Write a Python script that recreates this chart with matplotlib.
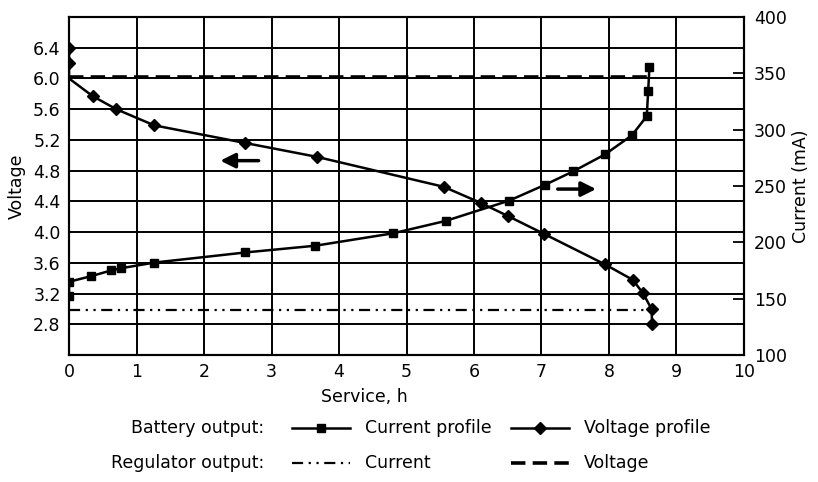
import matplotlib
matplotlib.use("Agg")
import matplotlib.pyplot as plt
from matplotlib.lines import Line2D

plt.rcParams['font.family'] = ['DejaVu Sans']
plt.rcParams['font.size'] = 12

# battery voltage profile (left axis, V)
volt_hours = [0, 0, 0, 0.35, 0.7, 1.26, 2.61, 3.67, 5.55, 6.1, 6.5, 7.03, 7.94, 8.35, 8.5, 8.63, 8.64]
volt_values = [6.4, 6.2, 6.0, 5.77, 5.6, 5.39, 5.16, 4.98, 4.59, 4.38, 4.21, 3.98, 3.58, 3.38, 3.21, 3.0, 2.8]

# battery current profile (right axis, mA)
cur_hours = [0, 0, 0.33, 0.62, 0.77, 1.26, 2.61, 3.65, 4.8, 5.58, 6.52, 7.05, 7.47, 7.94, 8.34, 8.56, 8.58, 8.6]
cur_values = [152, 165, 170, 175, 177, 182, 191, 197, 208, 219, 237, 251, 263, 278, 295, 312, 334, 356]

# regulator outputs
reg_volt_hours = [0, 8.58]
reg_volt_values = [6.02, 6.02]
reg_cur_hours = [0, 8.62]
reg_cur_values = [140, 140]

x_ticks = list(range(0, 11))
volt_ticks = [2.8, 3.2, 3.6, 4.0, 4.4, 4.8, 5.2, 5.6, 6.0, 6.4]
volt_grid = [2.4 + 0.4 * i for i in range(12)]
cur_ticks = [100, 150, 200, 250, 300, 350, 400]

fig = plt.figure(figsize=(8.18, 4.82), dpi=100)
ax = fig.add_axes([0.0844, 0.2635, 0.8251, 0.7012])
ax2 = ax.twinx()

# grid
for g in volt_grid:
    ax.axhline(g, color='black', lw=1.4, zorder=0)
for g in x_ticks:
    ax.axvline(g, color='black', lw=1.4, zorder=0)

ax.plot(volt_hours, volt_values, color='black', lw=1.8, marker='D', markersize=6.5,
        markevery=[i for i in range(len(volt_hours)) if i != 2], zorder=3)
ax.plot(reg_volt_hours, reg_volt_values, color='black', lw=2.6, linestyle=(0, (4, 2)), zorder=3)

ax2.plot(cur_hours, cur_values, color='black', lw=1.8, marker='s', markersize=5.5, zorder=3)
ax2.plot(reg_cur_hours, reg_cur_values, color='black', lw=1.6, linestyle=(0, (5, 2.5, 1, 2.5, 1, 2.5)), zorder=3)

ax.set_xlim(0, 10)
ax.set_ylim(2.4, 6.8)
ax2.set_ylim(100, 400)
ax.set_xticks(x_ticks)
ax.set_yticks(volt_ticks)
ax.set_yticklabels([f'{v:.1f}' for v in volt_ticks])
ax2.set_yticks(cur_ticks)
ax.tick_params(axis='both', length=0, pad=6, labelsize=12.5)
ax2.tick_params(axis='y', direction='in', length=8, width=1.3, pad=7, labelsize=12.5)

for sp in list(ax.spines.values()) + list(ax2.spines.values()):
    sp.set_linewidth(1.5)

ax.set_ylabel('Voltage', fontsize=12.5, labelpad=5)
ax2.set_ylabel('Current (mA)', fontsize=12.5, labelpad=4)
fig.text(364 / 818, 1 - 397 / 482, 'Service, h', ha='center', va='center', fontsize=12.5)

# direction arrows
ax.annotate('', xy=(2.2, 4.93), xytext=(2.85, 4.93),
            arrowprops=dict(arrowstyle='-|>', lw=2.5, mutation_scale=22, color='black'))
ax.annotate('', xy=(7.85, 4.56), xytext=(7.2, 4.56),
            arrowprops=dict(arrowstyle='-|>', lw=2.5, mutation_scale=22, color='black'))

# legend drawn manually
W, H = 818, 482
def fx(px):
    return px / W
def fy(py):
    return 1 - py / H

rows = [428, 463]
fig.text(fx(264), fy(rows[0]), 'Battery output:', ha='right', va='center', fontsize=12.5)
fig.text(fx(264), fy(rows[1]), 'Regulator output:', ha='right', va='center', fontsize=12.5)

samples = [
    (292, rows[0], dict(lw=1.8, marker='s', markersize=5.5, markevery=[1]), 'Current profile'),
    (511, rows[0], dict(lw=1.8, marker='D', markersize=6.5, markevery=[1]), 'Voltage profile'),
    (292, rows[1], dict(lw=1.6, linestyle=(0, (5, 2.5, 1, 2.5, 1, 2.5))), 'Current'),
    (511, rows[1], dict(lw=2.6, linestyle=(0, (4, 2))), 'Voltage'),
]
for x0, y0, style, label in samples:
    fig.add_artist(Line2D([fx(x0), fx(x0 + 29), fx(x0 + 58)], [fy(y0)] * 3,
                          transform=fig.transFigure, color='black', **style))
    fig.text(fx(x0 + 73), fy(y0), label, ha='left', va='center', fontsize=12.5)

fig.savefig('out.png', dpi=100)
